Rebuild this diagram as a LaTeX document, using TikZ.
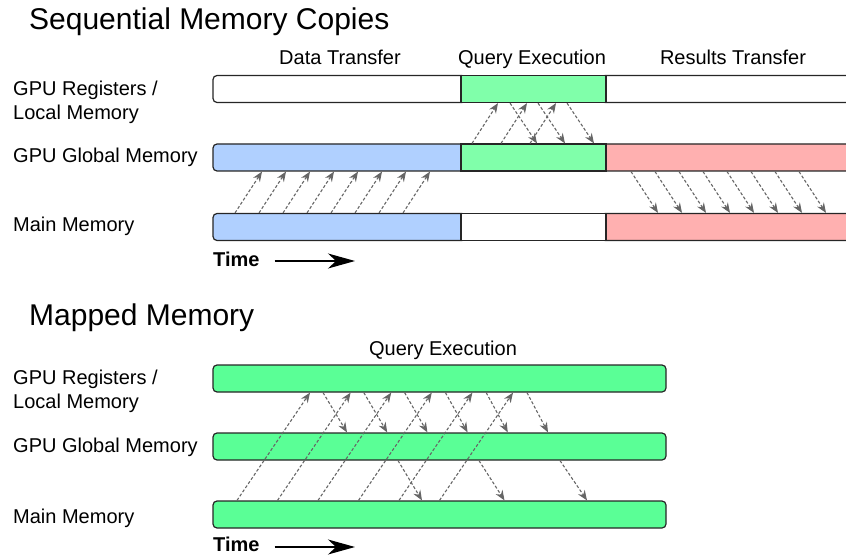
\documentclass[tikz,border=0pt]{standalone}
\usepackage{fontspec}
\setmainfont{Liberation Sans}
\usetikzlibrary{arrows.meta, positioning, calc}
\definecolor{xferblue}{HTML}{B0D0FF}
\definecolor{querygreen}{HTML}{80FFAA}
\definecolor{resultred}{HTML}{FFB0B0}
\definecolor{mappedgreen}{HTML}{5AFF96}
\definecolor{copygray}{HTML}{666666}
\tikzset{
	every node/.style={
		align=left,
		inner sep=0pt,
	},
}
\tikzstyle{seg} = [draw=black!85, line width=1.2pt, minimum height=27pt]
\tikzstyle{rseg} = [seg, rounded corners=4pt]
\tikzstyle{copy} = [draw=copygray, line width=1.1pt, dash pattern=on 3pt off 2pt, -{Stealth[length=10pt,width=8pt]}]
\tikzstyle{titletext} = [font=\fontsize{30}{36}\selectfont, anchor=base west]
\tikzstyle{headtext} = [font=\fontsize{20}{24}\selectfont, anchor=base]
\tikzstyle{rowtext} = [font=\fontsize{20}{24}\selectfont, anchor=base west]
\tikzstyle{timetext} = [font=\fontsize{20}{24}\selectfont\bfseries, anchor=base west]
\tikzstyle{timearrow} = [line width=1.3pt, -{Stealth[length=27pt,width=15pt,inset=8pt]}]

\begin{document}
\begin{tikzpicture}[x=1pt, y=-1pt]
		\clip (0,0) rectangle (846,556);
		
		% sequential memory copies
		\node[titletext] (title-seq) at (29,30) {Sequential Memory Copies};
		\node[headtext] (hd-xfer) at (340,65) {Data Transfer};
		\node[headtext] (hd-query) at (532,65) {Query Execution};
		\node[headtext] (hd-result) at (733,65) {Results Transfer};
		
		\node[rowtext, anchor=north west] (row-reg) at (13,81) {GPU Registers /\\Local Memory};
		\node[rowtext] (row-gm) at (13,163) {GPU Global Memory};
		\node[rowtext] (row-mm) at (13,232) {Main Memory};
		
		\node[rseg, fill=white, minimum width=253pt] (reg-a) at (339.5,89) {};
		\node[rseg, fill=white, minimum width=279pt] (reg-c) at (740.5,89) {};
		\node[seg, fill=querygreen, minimum width=145pt] (reg-b) at (533.5,89) {};
		
		\node[rseg, fill=xferblue, minimum width=253pt] (gm-a) at (339.5,157.5) {};
		\node[rseg, fill=resultred, minimum width=279pt] (gm-c) at (740.5,157.5) {};
		\node[seg, fill=querygreen, minimum width=145pt] (gm-b) at (533.5,157.5) {};
		
		\node[rseg, fill=xferblue, minimum width=253pt] (mm-a) at (339.5,227) {};
		\node[rseg, fill=resultred, minimum width=279pt] (mm-c) at (740.5,227) {};
		\node[seg, fill=white, minimum width=145pt] (mm-b) at (533.5,227) {};
		
		\foreach \x in {235,259,...,403}
			\draw[copy] (\x,0 |- mm-a.north) -- (\x+27,0 |- gm-a.south);
		\foreach \x in {472,501,530}
			\draw[copy] (\x,0 |- gm-b.north) -- (\x+26,0 |- reg-b.south);
		\foreach \x in {510,538,567}
			\draw[copy] (\x,0 |- reg-b.south) -- (\x+27,0 |- gm-b.north);
		\foreach \x in {631,655,...,799}
			\draw[copy] (\x,0 |- gm-c.south) -- (\x+27,0 |- mm-c.north);
		
		\node[timetext] (time-seq) at (213,266) {Time};
		\coordinate (time-seq-tip) at (355,261);
		\draw[timearrow] ($(time-seq.base east)+(15,-5)$) -- (time-seq-tip);
		
		% mapped memory
		\node[titletext] (title-map) at (29,325) {Mapped Memory};
		\node[headtext] (hd-mapped) at (443,355) {Query Execution};
		
		\node[rowtext, anchor=north west] (row-reg2) at (13,369.5) {GPU Registers /\\Local Memory};
		\node[rowtext] (row-gm2) at (13,452) {GPU Global Memory};
		\node[rowtext] (row-mm2) at (13,523) {Main Memory};
		
		\node[rseg, fill=mappedgreen, minimum width=453pt] (reg2) at (439.5,378.5) {};
		\node[rseg, fill=mappedgreen, minimum width=453pt] (gm2) at (439.5,446.5) {};
		\node[rseg, fill=mappedgreen, minimum width=453pt] (mm2) at (439.5,514.5) {};
		
		\foreach \i in {0,...,5}
			\draw[copy] (237+\i*40.5,0 |- mm2.north) -- (310+\i*40.6,0 |- reg2.south);
		\foreach \i in {0,...,5}
			\draw[copy] (323+\i*40.8,0 |- reg2.south) -- (347+\i*40.2,0 |- gm2.north);
		\foreach \i in {0,1,2}
			\draw[copy] (398+\i*81,0 |- gm2.south) -- (422+\i*82.5,0 |- mm2.north);
		
		\node[timetext] (time-map) at (213,551) {Time};
		\coordinate (time-map-tip) at (355,547);
		\draw[timearrow] ($(time-map.base east)+(15,-4)$) -- (time-map-tip);
		
	\end{tikzpicture}
\end{document}
